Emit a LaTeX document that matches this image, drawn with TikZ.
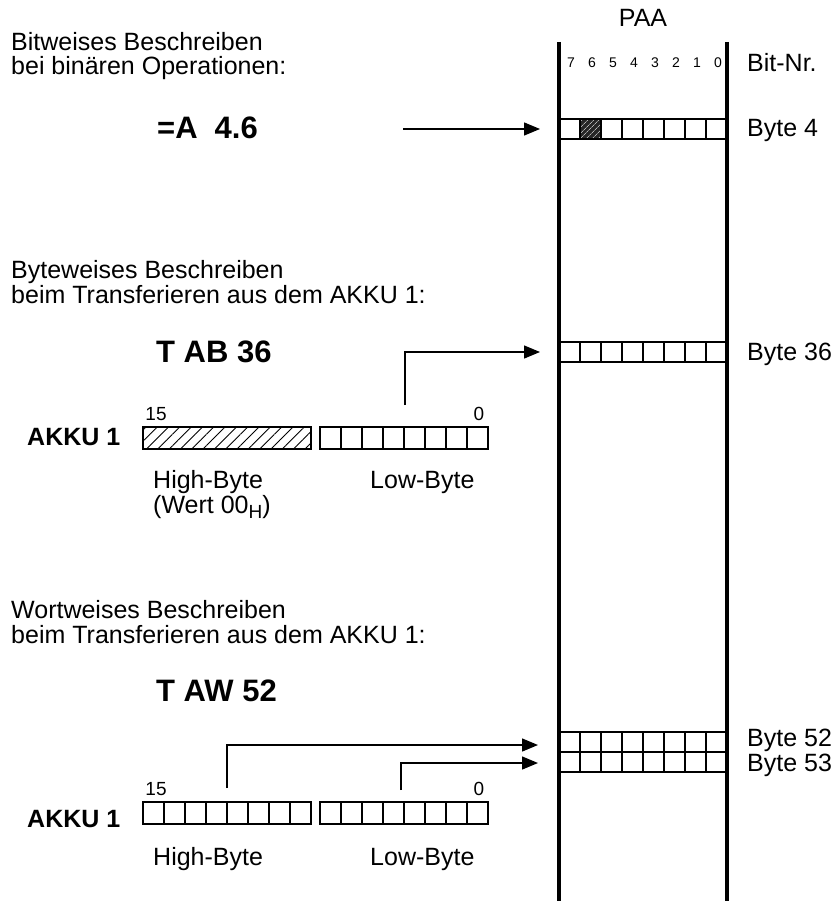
\documentclass[tikz,border=0pt]{standalone}
\usepackage{fontspec}
\setmainfont{Liberation Sans}
\usetikzlibrary{arrows.meta,patterns.meta}

\tikzset{
  txt/.style={font=\fontsize{25}{28}\selectfont, anchor=base west, inner sep=0pt},
  cmd/.style={font=\fontsize{31}{34}\selectfont\bfseries, anchor=base west, inner sep=0pt},
  akku/.style={font=\fontsize{25}{28}\selectfont\bfseries, anchor=base west, inner sep=0pt},
  bitno/.style={font=\fontsize{14}{16}\selectfont, anchor=base, inner sep=0pt},
  akkuno/.style={font=\fontsize{19}{22}\selectfont, anchor=base, inner sep=0pt},
  cell/.style={draw=black, line width=1.6pt},
  arr/.style={-{Triangle[length=16pt,width=13pt]}, line width=1.4pt},
}

\begin{document}
\begin{tikzpicture}[x=1pt,y=-1pt]
  \useasboundingbox (0,0) rectangle (836,901);
  % PAA column
  \node[txt,anchor=base] (paa) at (643,27) {PAA};
  \draw[line width=4pt] (559,42) -- (559,901);
  \draw[line width=4pt] (727,42) -- (727,901);
  \foreach \i in {0,...,7}{\pgfmathtruncatemacro\b{7-\i}
    \node[bitno] (bit\b) at ({571+21*\i},68) {\b};}
  \node[txt] (bitnr) at (747,72) {Bit-Nr.};
  % bytes in the PAA
  \fill[black!85] (580,119) rectangle (601,139);
  \fill[pattern={Lines[angle=45,distance=4pt,line width=0.7pt]},pattern color=white!70!black] (580,119) rectangle (601,139);
  \foreach \y in {119,342,732,752}{
    \foreach \i in {0,...,7}{\draw[cell] ({559+21*\i},\y) rectangle ++(21,20);}}
  \node[txt] (byte4) at (747,137) {Byte 4};
  \node[txt] (byte36) at (747,360) {Byte 36};
  \node[txt] (byte52) at (747,746) {Byte 52};
  \node[txt] (byte53) at (747,771) {Byte 53};

  % bitwise
  \node[txt] (bitA) at (11,51) {Bitweises Beschreiben};
  \node[txt] (bitB) at (11,75) {bei binären Operationen:};
  \node[cmd] (cmdA) at (157,139) {=A\hspace{17pt}4.6};
  \coordinate (a4s) at (403,129);
  \coordinate (a4e) at (540,129);
  \draw[arr] (a4s) -- (a4e);

  % bytewise
  \node[txt] (byteA) at (11,278) {Byteweises Beschreiben};
  \node[txt] (byteB) at (11,303) {beim Transferieren aus dem AKKU 1:};
  \node[cmd] (cmdB) at (156,362) {T AB 36};
  \node[akku] (akkuA) at (27,445) {AKKU 1};
  \node[akkuno] (hiA) at (156,420) {15};
  \node[akkuno] (loA) at (479,420) {0};
  \draw[cell,pattern={Lines[angle=45,distance=8pt,line width=0.9pt]}] (143,427) rectangle (311,449);
  \foreach \i in {0,...,7}{\draw[cell] ({320+21*\i},427) rectangle ++(21,22);}
  \node[txt] (hbA) at (153,488) {High-Byte};
  \node[txt] (wert) at (153,513) {(Wert 00\raisebox{-5pt}{\fontsize{19}{20}\selectfont H})};
  \node[txt] (lbA) at (370,488) {Low-Byte};
  \coordinate (a36s) at (405,405);
  \coordinate (a36e) at (540,352);
  \draw[arr] (a36s) |- (a36e);

  % wordwise
  \node[txt] (wordA) at (11,618) {Wortweises Beschreiben};
  \node[txt] (wordB) at (11,643) {beim Transferieren aus dem AKKU 1:};
  \node[cmd] (cmdC) at (156,701) {T AW 52};
  \node[akku] (akkuB) at (27,827) {AKKU 1};
  \node[akkuno] (hiB) at (156,795) {15};
  \node[akkuno] (loB) at (479,795) {0};
  \foreach \i in {0,...,7}{
    \draw[cell] ({143+21*\i},802) rectangle ++(21,22);
    \draw[cell] ({320+21*\i},802) rectangle ++(21,22);}
  \node[txt] (hbB) at (153,865) {High-Byte};
  \node[txt] (lbB) at (370,865) {Low-Byte};
  \coordinate (a52s) at (227,788);
  \coordinate (a52e) at (538,745);
  \coordinate (a53s) at (401,790);
  \coordinate (a53e) at (538,763);
  \draw[arr] (a52s) |- (a52e);
  \draw[arr] (a53s) |- (a53e);
\end{tikzpicture}
\end{document}
